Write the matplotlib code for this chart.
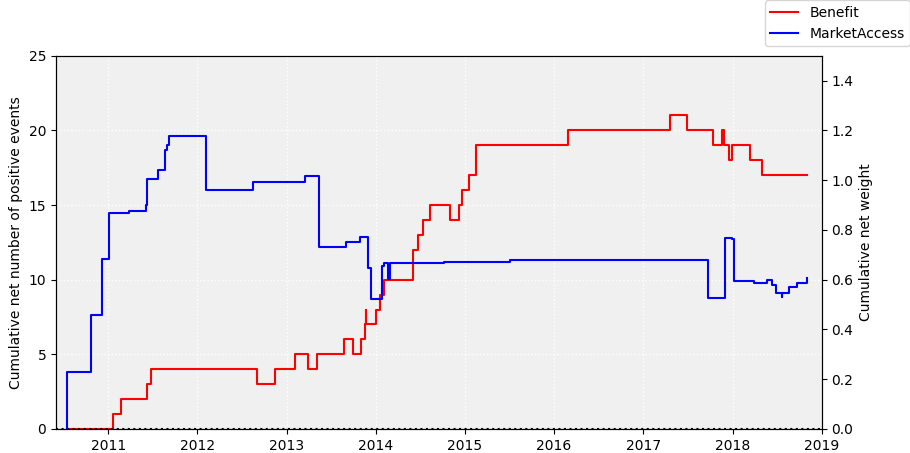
import matplotlib
matplotlib.use("Agg")
import matplotlib.pyplot as plt
import pandas as pd
import numpy as np

# Benefit: cumulative net number of positive events (left axis), decimal years
benefit_t = [2010.534, 2011.056, 2011.14, 2011.43, 2011.485, 2012.668, 2012.866,
             2013.093, 2013.239, 2013.34, 2013.642, 2013.743, 2013.836, 2013.88,
             2013.886, 2013.895, 2014.007, 2014.05, 2014.086, 2014.42, 2014.478,
             2014.526, 2014.608, 2014.832, 2014.93, 2014.97, 2015.048, 2015.123,
             2016.156, 2017.301, 2017.487, 2017.777, 2017.881, 2017.903, 2017.963,
             2017.993, 2018.197, 2018.327, 2018.84]
benefit_v = [0, 1, 2, 3, 4, 3, 4,
             5, 4, 5, 6, 5, 6, 7,
             8, 7, 8, 9, 10, 12, 13,
             14, 15, 14, 15, 16, 17, 19,
             20, 21, 20, 19, 20, 19, 18,
             19, 18, 17, 17]

# MarketAccess: cumulative net weight (right axis), decimal years
market_t = [2010.534, 2010.536, 2010.806, 2010.925, 2011.004, 2011.235, 2011.422,
            2011.44, 2011.56, 2011.642, 2011.66, 2011.679, 2012.10, 2012.623,
            2013.209, 2013.358, 2013.66, 2013.817, 2013.907, 2013.948, 2014.067,
            2014.097, 2014.134, 2014.16, 2014.769, 2015.502, 2017.725, 2017.914,
            2017.993, 2018.015, 2018.238, 2018.383, 2018.439, 2018.483, 2018.55,
            2018.556, 2018.632, 2018.721, 2018.835, 2018.84]
market_v = [0.0, 0.228, 0.457, 0.683, 0.869, 0.875, 0.90,
            1.003, 1.039, 1.121, 1.141, 1.177, 0.962, 0.991,
            1.015, 0.730, 0.750, 0.771, 0.647, 0.524, 0.655,
            0.668, 0.604, 0.668, 0.671, 0.680, 0.528, 0.768,
            0.762, 0.594, 0.587, 0.600, 0.579, 0.547, 0.530,
            0.547, 0.572, 0.586, 0.586, 0.606]


def to_dates(years):
    out = []
    for y in years:
        yr = int(np.floor(y))
        start = pd.Timestamp(year=yr, month=1, day=1)
        end = pd.Timestamp(year=yr + 1, month=1, day=1)
        out.append(start + (end - start) * (y - yr))
    return pd.to_datetime(out)


fig = plt.figure(figsize=(9.1, 4.53), dpi=100)
ax = fig.add_axes([0.0615, 0.053, 0.8415, 0.824])
ax.set_facecolor("#f0f0f0")
ax2 = ax.twinx()

l1, = ax.plot(to_dates(benefit_t), benefit_v, color="red", lw=1.5,
              drawstyle="steps-post", label="Benefit")
l2, = ax2.plot(to_dates(market_t), market_v, color="blue", lw=1.5,
               drawstyle="steps-post", label="MarketAccess")
ax.axhline(0, color="black", linestyle=":", lw=1.5)

ax.set_ylim(0, 25)
ax.set_yticks([0, 5, 10, 15, 20, 25])
ax2.set_ylim(0, 1.5)
ax2.set_yticks([0.0, 0.2, 0.4, 0.6, 0.8, 1.0, 1.2, 1.4])
ax.set_xlim(pd.Timestamp("2010-06-01"), pd.Timestamp("2019-01-01"))

ax.grid(True, color="white", linestyle=":", lw=1)
ax.set_axisbelow(True)

ax.set_ylabel("Cumulative net number of positive events", fontsize=10)
ax2.set_ylabel("Cumulative net weight", fontsize=10)

fig.legend(handles=[l1, l2], loc="upper right", bbox_to_anchor=(1.0, 1.0),
           borderaxespad=0.0, fontsize=10)

fig.savefig("out.png", dpi=100)
